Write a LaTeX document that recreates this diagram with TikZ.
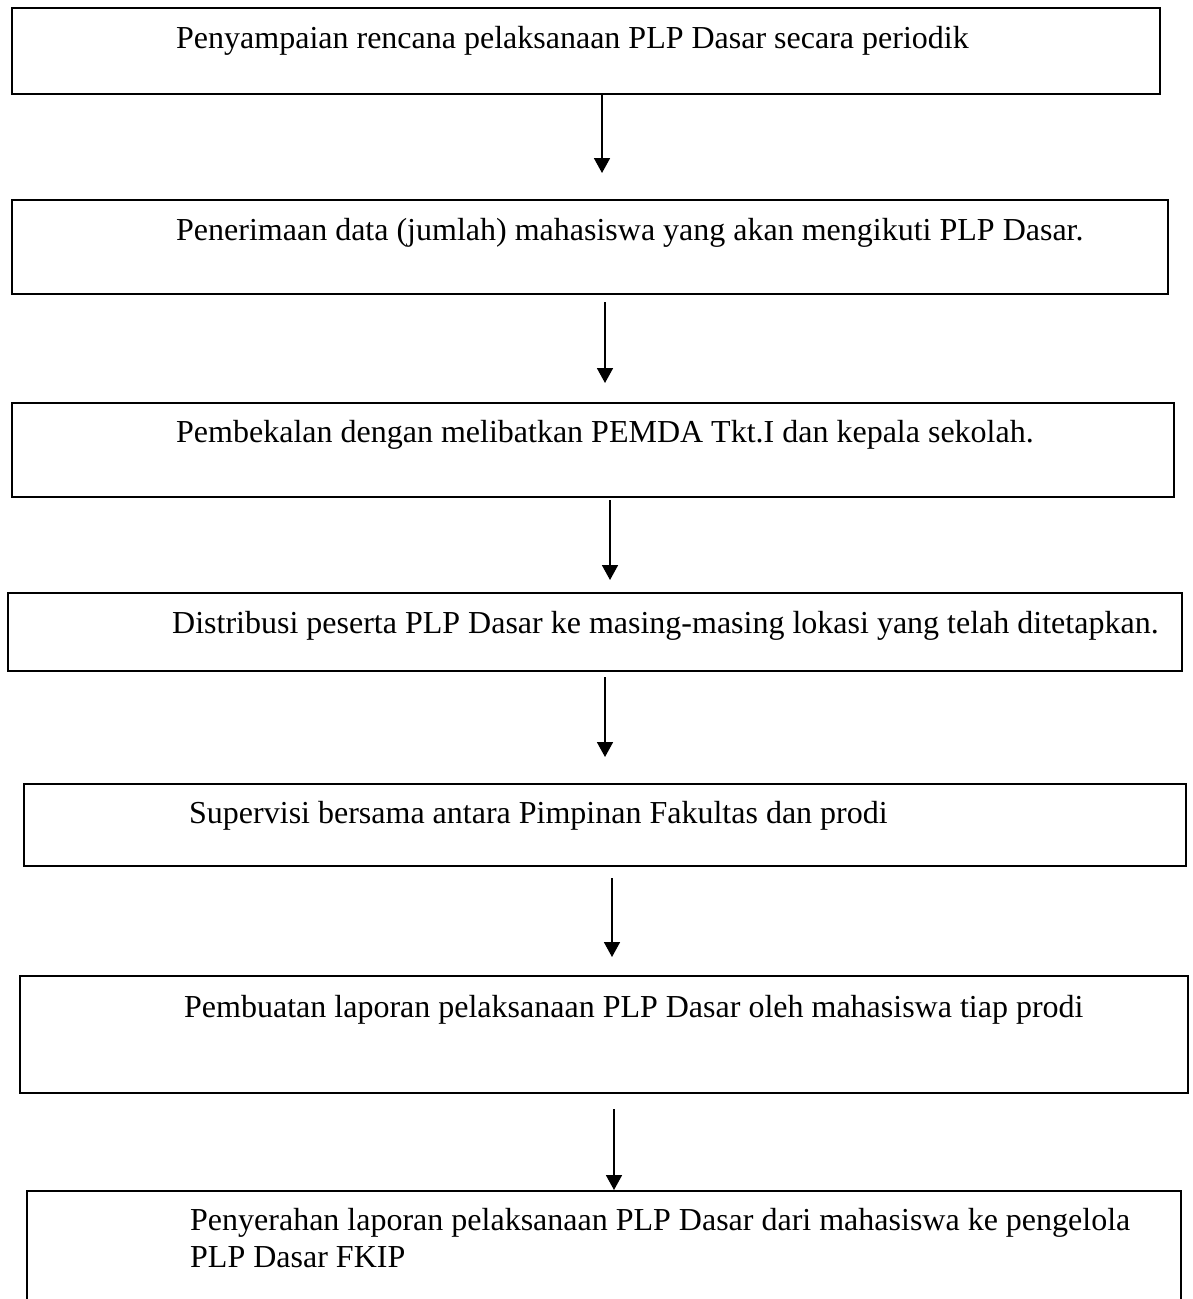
\documentclass[tikz,border=0pt]{standalone}
\usepackage{fontspec}
\setmainfont{Liberation Serif}
\usetikzlibrary{arrows.meta}
\begin{document}
\begin{tikzpicture}[x=1pt,y=1pt,
  stepbox/.style={draw=black,line width=2pt,inner sep=0pt,anchor=north west},
  label/.style={anchor=base west,inner sep=0pt,font=\fontsize{32}{37}\selectfont,align=left},
  flow/.style={line width=1.8pt,-{Triangle[width=16pt,length=15pt]}}]
\clip (0,0) rectangle (1192,-1299);
\fill[white] (0,0) rectangle (1192,-1299);

% process boxes (left, top, width, height)
\node[stepbox,minimum width=1148pt,minimum height=86pt]  (b1) at (11,-7)    {};
\node[stepbox,minimum width=1156pt,minimum height=94pt]  (b2) at (11,-199)  {};
\node[stepbox,minimum width=1162pt,minimum height=94pt]  (b3) at (11,-402)  {};
\node[stepbox,minimum width=1174pt,minimum height=78pt]  (b4) at (7,-592)   {};
\node[stepbox,minimum width=1162pt,minimum height=82pt]  (b5) at (23,-783)  {};
\node[stepbox,minimum width=1168pt,minimum height=117pt] (b6) at (19,-975)  {};
\node[stepbox,minimum width=1154pt,minimum height=130pt] (b7) at (26,-1190) {};

% box texts
\node[label] (t1) at (176,-48)   {Penyampaian rencana pelaksanaan PLP Dasar secara periodik};
\node[label] (t2) at (176,-240)  {Penerimaan data (jumlah) mahasiswa yang akan mengikuti PLP Dasar.};
\node[label] (t3) at (176,-442)  {Pembekalan dengan melibatkan PEMDA Tkt.I dan kepala sekolah.};
\node[label] (t4) at (172,-633)  {Distribusi peserta PLP Dasar ke masing-masing lokasi yang telah ditetapkan.};
\node[label] (t5) at (189,-823)  {Supervisi bersama antara Pimpinan Fakultas dan prodi};
\node[label] (t6) at (184,-1017) {Pembuatan laporan pelaksanaan PLP Dasar oleh mahasiswa tiap prodi};
% two-line text: base anchor sits on the last line
\node[label] (t7) at (190,-1267) {Penyerahan laporan pelaksanaan PLP Dasar dari mahasiswa ke pengelola\\PLP Dasar FKIP};

% arrow ends
\coordinate (s1) at (602,-93);   \coordinate (e1) at (602,-173);
\coordinate (s2) at (605,-302);  \coordinate (e2) at (605,-383);
\coordinate (s3) at (610,-500);  \coordinate (e3) at (610,-580);
\coordinate (s4) at (605,-677);  \coordinate (e4) at (605,-757);
\coordinate (s5) at (612,-878);  \coordinate (e5) at (612,-957);
\coordinate (s6) at (614,-1109); \coordinate (e6) at (614,-1190);

\draw[flow] (s1) -- (e1);
\draw[flow] (s2) -- (e2);
\draw[flow] (s3) -- (e3);
\draw[flow] (s4) -- (e4);
\draw[flow] (s5) -- (e5);
\draw[flow] (s6) -- (e6);
\end{tikzpicture}
\end{document}
